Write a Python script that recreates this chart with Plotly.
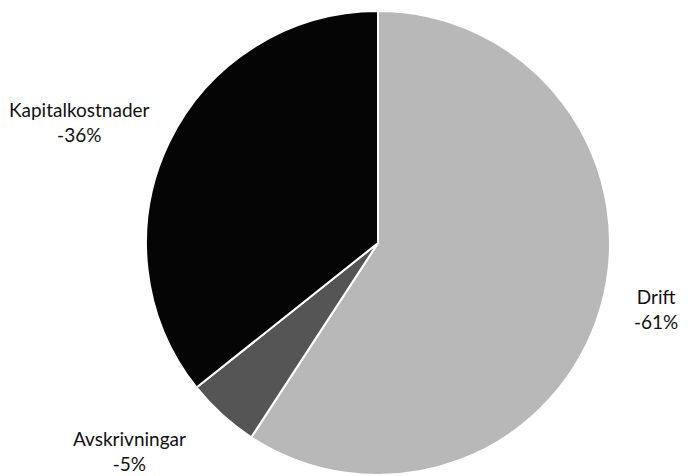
import plotly.graph_objects as go

# Data
categories = ["Drift", "Avskrivningar", "Kapitalkostnader"]
slice_values = [59.2, 5.1, 35.7]          # slice sizes as drawn
label_percent = ["-61%", "-5%", "-36%"]   # label text as printed
colors = ["#b8b8b8", "#555555", "#050505"]

# label placement (paper coords, layout only)
label_pos = [(0.945, 0.351), (0.187, 0.052), (0.115, 0.744)]

W, H = 694, 476
cx, cy, r = 378, 243, 232

fig = go.Figure(go.Pie(
    labels=categories,
    values=slice_values,
    sort=False,
    direction="clockwise",
    rotation=0,
    textinfo="none",
    hoverinfo="label+percent",
    marker=dict(colors=colors, line=dict(color="white", width=2)),
    domain=dict(x=[(cx - r) / W, (cx + r) / W],
                y=[(H - cy - r) / H, (H - cy + r) / H]),
    showlegend=False,
))

for name, pct, (x, y) in zip(categories, label_percent, label_pos):
    fig.add_annotation(
        x=x, y=y, xref="paper", yref="paper",
        text=f"{name}<br>{pct}", showarrow=False,
        font=dict(family="Lato", size=19, color="#111111"),
        align="center", xanchor="center", yanchor="middle",
    )

fig.update_layout(
    width=W, height=H,
    margin=dict(l=0, r=0, t=0, b=0),
    paper_bgcolor="white", plot_bgcolor="white",
)

fig.write_html("out.html")
